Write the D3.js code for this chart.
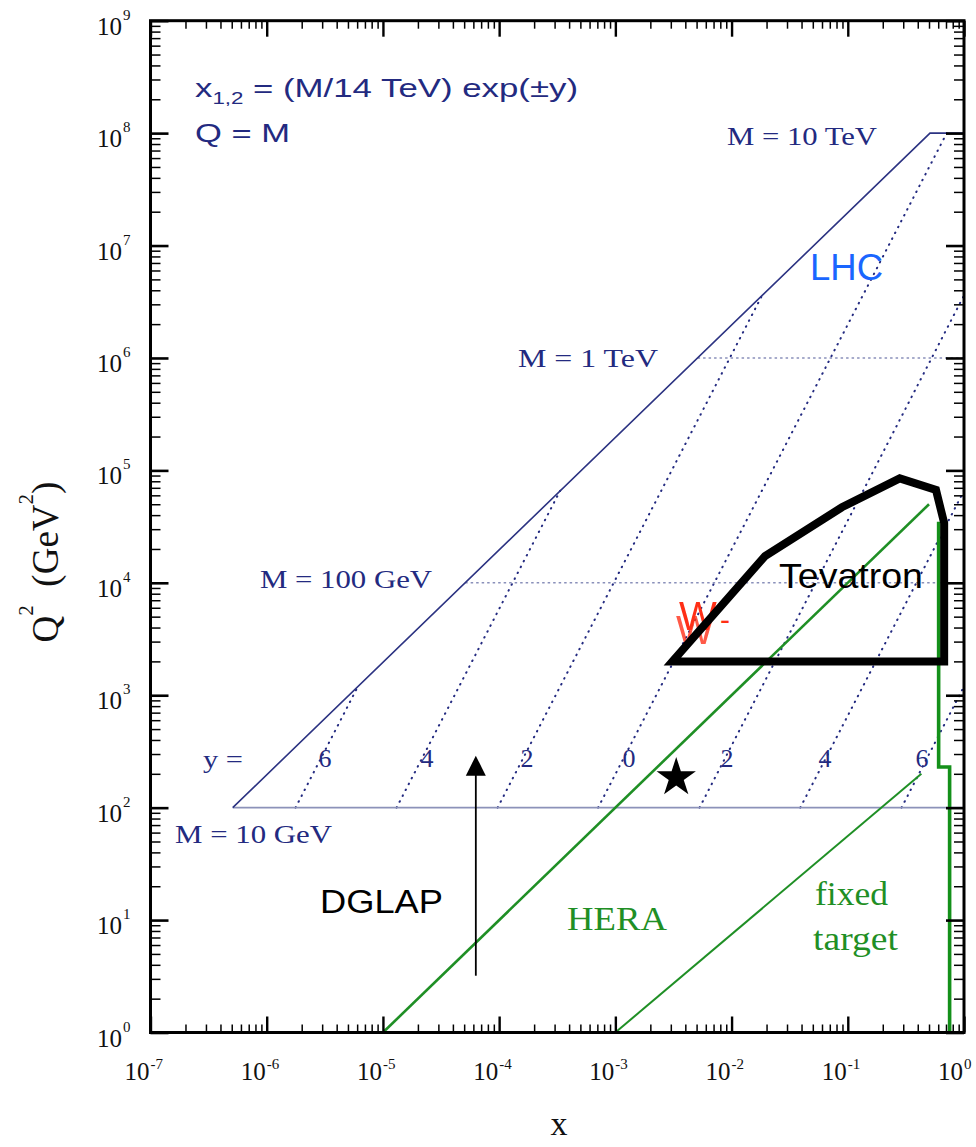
<!DOCTYPE html>
<html>
<head>
<meta charset="utf-8">
<script src="https://cdn.jsdelivr.net/npm/d3@7"></script>
<style>
  body { margin: 0; background: #fff; }
  svg { display: block; }
</style>
</head>
<body>
<div id="chart"></div>
<script>
// ---- axis decades --------------------------------------------------------
const xDecades = [-7, -6, -5, -4, -3, -2, -1, 0];
const yDecades = [0, 1, 2, 3, 4, 5, 6, 7, 8, 9];

// ---- LHC kinematics: x1,2 = (M/14 TeV) exp(±y), Q = M ---------------------
// kinematic limit (other parton at x = 1), closed off at M = 10 TeV
const lhcLimit = [[5.1e-7, 1e2], [0.51, 1e8], [1, 1e8]];

// fixed-mass lines, Q^2 = M^2
const massQ2    = [1e2, 1e4, 1e6];
const massStart = [5.1e-7, 5.1e-5, 5.1e-3];
const massNames = ["M = 10 GeV", "M = 100 GeV", "M = 1 TeV", "M = 10 TeV"];

// fixed-rapidity lines y = 6, 4, 2, 0 (small x side) and 2, 4, 6 (large x side)
const rapidityNames = ["6", "4", "2", "0", "2", "4", "6"];
const rapidityLines = [
  [[1.77e-6, 1e2], [6.1e-6, 1.2e3]],
  [[1.31e-5, 1e2], [3.35e-4, 6.6e4]],
  [[9.7e-5, 1e2], [1.83e-2, 3.6e6]],
  [[7.1e-4, 1e2], [0.71, 1e8]],
  [[5.3e-3, 1e2], [1, 3.6e6]],
  [[3.9e-2, 1e2], [1, 6.6e4]],
  [[0.29, 1e2], [1, 1.2e3]]
];

// ---- existing data regions -------------------------------------------------
const heraLine     = [[1e-5, 1], [0.5, 5e4]];
const fixedTarget  = [[1e-3, 1], [0.43, 200]];
const dataBoundary = [[0.605, 3.5e4], [0.605, 230], [0.752, 230], [0.752, 1]];
const tevatron = [
  [3.1e-3, 2000], [0.0194, 1.73e4], [0.089, 4.7e4], [0.28, 8.5e4],
  [0.574, 6.7e4], [0.675, 3.4e4], [0.675, 2000]
];
const dglapArrow = [[6.3e-5, 3.2], [6.3e-5, 290]];
const starPoint  = [3.34e-3, 185];

// ---- layout ----------------------------------------------------------------
const W = 976, H = 1147;
const L = 150.5, R = 964, T = 20.7, B = 1032.5;

const svg = d3.select("#chart").append("svg")
  .attr("width", W).attr("height", H)
  .attr("viewBox", `0 0 ${W} ${H}`);

// doubled print of the W label
const defs = svg.append("defs");
const ghost = defs.append("filter").attr("id", "ghost")
  .attr("x", "-20%").attr("y", "-20%").attr("width", "140%").attr("height", "180%");
ghost.append("feOffset").attr("in", "SourceGraphic").attr("dx", -3).attr("dy", 14).attr("result", "off");
ghost.append("feComponentTransfer").attr("in", "off").attr("result", "faded")
  .append("feFuncA").attr("type", "linear").attr("slope", 0.8);
const gm = ghost.append("feMerge");
gm.append("feMergeNode").attr("in", "faded");
gm.append("feMergeNode").attr("in", "SourceGraphic");

const x = d3.scaleLog().domain([1e-7, 1]).range([L, R]);
const y = d3.scaleLog().domain([1, 1e9]).range([B, T]);

const serif = "'Liberation Serif', 'Times New Roman', serif";
const sans  = "'Liberation Sans', Arial, sans-serif";
const navy  = "#232a80";
const green = "#1f8f25";

const line = d3.line().x(d => x(d[0])).y(d => y(d[1]));
const plot = svg.append("g");

// rapidity lines (dotted)
plot.selectAll("path.rap").data(rapidityLines).join("path")
  .attr("class", "rap")
  .attr("d", line)
  .attr("fill", "none")
  .attr("stroke", navy)
  .attr("stroke-width", 2)
  .attr("stroke-linecap", "round")
  .attr("stroke-dasharray", "0.6 6");

// fixed-mass lines
plot.selectAll("path.mass").data(massQ2).join("path")
  .attr("class", "mass")
  .attr("d", (q, i) => line([[massStart[i], q], [1, q]]))
  .attr("fill", "none")
  .attr("stroke", (q, i) => i === 0 ? "#8c92b9" : "#8a90ba")
  .attr("stroke-width", 1.6)
  .attr("stroke-dasharray", (q, i) => i === 0 ? null : "2.5 3");

// kinematic limit
plot.append("path")
  .attr("d", line(lhcLimit))
  .attr("fill", "none")
  .attr("stroke", "#2c3382")
  .attr("stroke-width", 1.6);

// HERA, fixed target and large-x boundary
plot.append("path").attr("d", line(heraLine))
  .attr("fill", "none").attr("stroke", green).attr("stroke-width", 2.6);
plot.append("path").attr("d", line(fixedTarget))
  .attr("fill", "none").attr("stroke", green).attr("stroke-width", 2);
plot.append("path").attr("d", line(dataBoundary))
  .attr("fill", "none").attr("stroke", "#14901a").attr("stroke-width", 3.6);

// W- label (under the Tevatron outline)
plot.append("text").attr("x", 679).attr("y", 630)
  .attr("font-family", sans).attr("font-size", 40).attr("fill", "#ff2f14")
  .attr("filter", "url(#ghost)").text("W");
plot.append("text").attr("x", 720).attr("y", 630)
  .attr("font-family", sans).attr("font-size", 30).attr("fill", "#ff2f14").text("-");

// Tevatron region
plot.append("path")
  .attr("d", line(tevatron) + "Z")
  .attr("fill", "none")
  .attr("stroke", "#000")
  .attr("stroke-width", 8)
  .attr("stroke-linejoin", "miter")
  .attr("stroke-miterlimit", 6);

// DGLAP arrow
{
  const [p0, p1] = dglapArrow;
  const ax = x(p0[0]), y0 = y(p0[1]), y1 = y(p1[1]);
  plot.append("line")
    .attr("x1", ax).attr("x2", ax).attr("y1", y0).attr("y2", y1 + 18)
    .attr("stroke", "#000").attr("stroke-width", 1.8);
  plot.append("path")
    .attr("d", `M${ax},${y1} L${ax - 10},${y1 + 20} L${ax + 10},${y1 + 20} Z`)
    .attr("fill", "#000");
}

// star
plot.append("path")
  .attr("d", d3.symbol(d3.symbolStar, 480)())
  .attr("transform", `translate(${x(starPoint[0])},${y(starPoint[1])})`)
  .attr("fill", "#000");

// ---- frame and ticks ---------------------------------------------------------
const majorX = xDecades.map(e => Math.pow(10, e));
const majorY = yDecades.map(e => Math.pow(10, e));
const minorOf = decs => decs.slice(0, -1).flatMap(e => d3.range(2, 10).map(k => k * Math.pow(10, e)));
const minorX = minorOf(xDecades);
const minorY = minorOf(yDecades);

function ticks(axisFn, scale, values, size, width, transform) {
  const g = svg.append("g").attr("transform", transform)
    .call(axisFn(scale).tickValues(values).tickSize(-size).tickFormat(""));
  g.select(".domain").remove();
  g.selectAll(".tick line").attr("stroke", "#000").attr("stroke-width", width);
}
ticks(d3.axisBottom, x, minorX, 8, 1.5, `translate(0,${B})`);
ticks(d3.axisBottom, x, majorX, 16, 2.4, `translate(0,${B})`);
ticks(d3.axisTop,    x, minorX, 8, 1.5, `translate(0,${T})`);
ticks(d3.axisTop,    x, majorX, 16, 2.4, `translate(0,${T})`);
ticks(d3.axisLeft,   y, minorY, 10, 1.5, `translate(${L},0)`);
ticks(d3.axisLeft,   y, majorY, 18, 2.6, `translate(${L},0)`);
ticks(d3.axisRight,  y, minorY, 10, 1.5, `translate(${R},0)`);
ticks(d3.axisRight,  y, majorY, 18, 2.6, `translate(${R},0)`);

svg.append("rect")
  .attr("x", L).attr("y", T).attr("width", R - L).attr("height", B - T)
  .attr("fill", "none").attr("stroke", "#000").attr("stroke-width", 3);

// tick labels: 10^n
const xl = svg.append("g").attr("font-family", serif).attr("fill", "#111");
xDecades.forEach(e => {
  const t = xl.append("text").attr("x", x(Math.pow(10, e)) - 26).attr("y", 1080)
    .attr("font-size", 25);
  t.append("tspan").text("10");
  t.append("tspan").attr("font-size", 15).attr("dy", -11).attr("dx", 1).text(e);
});
const yl = svg.append("g").attr("font-family", serif).attr("fill", "#111");
yDecades.forEach(e => {
  const t = yl.append("text").attr("x", 97).attr("y", y(Math.pow(10, e)) + 14)
    .attr("font-size", 25);
  t.append("tspan").text("10");
  t.append("tspan").attr("font-size", 15).attr("dy", -15).attr("dx", 1).text(e);
});

// axis titles
{
  const t = svg.append("text")
    .attr("transform", "translate(58,562) rotate(-90)")
    .attr("text-anchor", "middle")
    .attr("font-family", serif).attr("font-size", 37).attr("fill", "#111");
  t.append("tspan").text("Q");
  t.append("tspan").attr("font-size", 21).attr("dy", -25).text("2");
  t.append("tspan").attr("dy", 25).text("\u00a0\u00a0(GeV");
  t.append("tspan").attr("font-size", 21).attr("dy", -25).text("2");
  t.append("tspan").attr("dy", 25).text(")");
}
svg.append("text").attr("x", 559).attr("y", 1135).attr("text-anchor", "middle")
  .attr("font-family", serif).attr("font-size", 34).attr("fill", "#111").text("x");

// ---- annotations ------------------------------------------------------------------
const ann = svg.append("g");
function label(txt, px, py, opts) {
  const t = ann.append("text").attr("x", px).attr("y", py)
    .attr("font-family", opts.font).attr("font-size", opts.size).attr("fill", opts.color)
    .text(txt);
  if (opts.len) t.attr("textLength", opts.len).attr("lengthAdjust", "spacingAndGlyphs");
  return t;
}

// formula
{
  const t = ann.append("text").attr("x", 195).attr("y", 97)
    .attr("font-family", sans).attr("font-size", 25).attr("fill", navy)
    .attr("textLength", 383).attr("lengthAdjust", "spacingAndGlyphs");
  t.append("tspan").text("x");
  t.append("tspan").attr("font-size", 16).attr("dy", 7).text("1,2");
  t.append("tspan").attr("dy", -7).text(" = (M/14 TeV) exp(\u00b1y)");
  label("Q = M", 195, 142, { font: sans, size: 25, color: navy, len: 95 });
}

label(massNames[3], 727, 145, { font: serif, size: 26, color: navy, len: 150 });
label(massNames[2], 518, 367, { font: serif, size: 26, color: navy, len: 140 });
label(massNames[1], 260, 588, { font: serif, size: 26, color: navy, len: 172 });
label(massNames[0], 175, 843, { font: serif, size: 26, color: navy, len: 157 });

label("y =", 203, 768, { font: serif, size: 25, color: navy, len: 40 });
const rapX = [325, 427, 527, 629, 727, 825, 922];
rapidityNames.forEach((n, i) => {
  label(n, rapX[i], 767, { font: serif, size: 26, color: navy }).attr("text-anchor", "middle");
});

label("LHC", 810, 280, { font: sans, size: 36, color: "#1a66ff", len: 73 });
label("Tevatron", 779, 588, { font: sans, size: 35, color: "#000", len: 144 });
label("DGLAP", 320, 913, { font: sans, size: 33, color: "#000", len: 123 });
label("HERA", 567, 930, { font: serif, size: 34, color: green, len: 100 });
label("fixed", 815, 905, { font: serif, size: 34, color: green, len: 73 });
label("target", 813, 950, { font: serif, size: 34, color: green, len: 85 });
</script>
</body>
</html>
